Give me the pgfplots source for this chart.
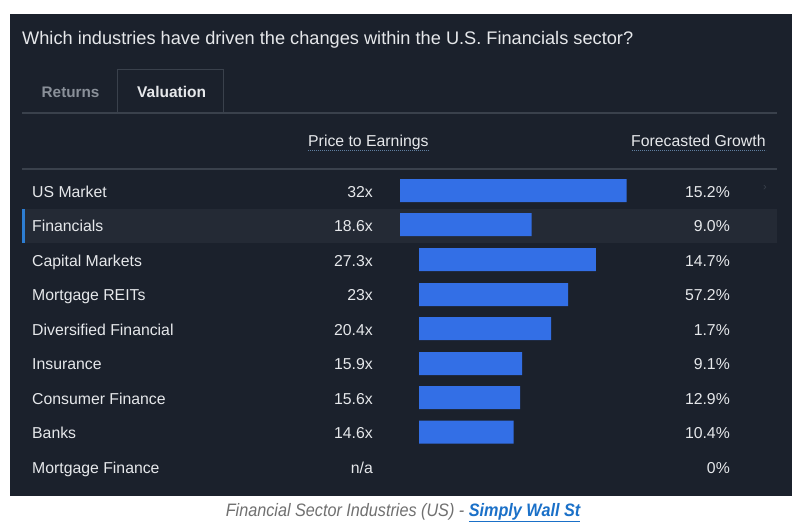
\documentclass[border=0pt]{standalone}
\usepackage{fontspec}
\setmainfont{Liberation Sans}
\usepackage{graphicx}
\usepackage{pgfplots}
\pgfplotsset{compat=1.18}
\usepackage{pgfplotstable}
\definecolor{panelbg}{HTML}{1B212C}
\definecolor{hirow}{HTML}{242A35}
\definecolor{rulec}{HTML}{3A414C}
\definecolor{txt}{HTML}{E6E8EB}
\definecolor{dimc}{HTML}{8A9099}
\definecolor{barblue}{HTML}{336FE6}
\definecolor{accent}{HTML}{2D7DD2}
\definecolor{capgray}{HTML}{707070}
\definecolor{linkc}{HTML}{1A70C8}
\definecolor{dotc}{HTML}{5F7FA0}

% y = bar centre (px from top), pe = price to earnings, x0 = bar start, k = px per unit
\pgfplotstableread{
y pe x0 k
190.5 32 400 7.08
224.5 18.6 400 7.08
259.5 27.3 419 6.48
294.5 23 419 6.48
328.5 20.4 419 6.48
363.5 15.9 419 6.48
397.5 15.6 419 6.48
432 14.6 419 6.48
}\bars

\newcommand{\fs}[1]{\fontsize{#1bp}{#1bp}\selectfont}
\newcommand{\row}[4]{%
  \node[t, anchor=base west] at (32,#1) {\fs{15.8}#2};
  \node[t, anchor=base east] at (373,#1) {\fs{15.8}#3};
  \node[t, anchor=base east] at (730,#1) {\fs{15.8}#4};
}

\begin{document}
\begin{tikzpicture}[t/.style={inner sep=0pt, text=txt}]
\begin{scope}[x=1bp, y=-1bp, shift={(0bp,519bp)}]
\fill[white] (0,0) rectangle (800,519);
\fill[panelbg] (10,14) rectangle (792,496);
\fill[hirow] (22,209) rectangle (777,243);
\fill[accent] (22,209) rectangle (24.5,243);
\draw[rulec, line width=1bp] (117,113) -- (117,70) -- (223,70) -- (223,113);
\draw[rulec, line width=1.2bp] (22,113) -- (777,113);
\draw[rulec, line width=1.2bp] (22,169) -- (777,169);
\draw[dotc, line width=1bp, dash pattern=on 1bp off 1bp] (308,151) -- (429,151);
\draw[dotc, line width=1bp, dash pattern=on 1bp off 1bp] (632,151) -- (766,151);
\end{scope}

\begin{axis}[width=800bp, height=519bp, scale only axis,
  xmin=0, xmax=800, ymin=0, ymax=519, y dir=reverse,
  hide axis, clip=false,
  xbar stacked, bar width=23bp]
\addplot[draw=none, fill=none] table[x=x0, y=y] {\bars};
\addplot[draw=none, fill=barblue] table[x expr=\thisrow{pe}*\thisrow{k}, y=y] {\bars};
\end{axis}

\begin{scope}[x=1bp, y=-1bp, shift={(0bp,519bp)}]
% title and tabs
\node[t, anchor=base west] at (22,44.5) {\fs{18.2}Which industries have driven the changes within the U.S. Financials sector?};
\node[t, anchor=base west, text=dimc] at (41.5,97.5) {\fs{15.3}\bfseries Returns};
\node[t, anchor=base west] at (137,97.5) {\fs{15.5}\bfseries Valuation};
\node[t, anchor=base west] at (308,146.5) {\fs{15.8}Price to Earnings};
\node[t, anchor=base west] at (631,146.5) {\fs{15.8}Forecasted Growth};

% rows
\row{197.3}{US Market}{32x}{15.2\%}
\row{231.8}{Financials}{18.6x}{9.0\%}
\row{266.3}{Capital Markets}{27.3x}{14.7\%}
\row{300.8}{Mortgage REITs}{23x}{57.2\%}
\row{335.3}{Diversified Financial}{20.4x}{1.7\%}
\row{369.8}{Insurance}{15.9x}{9.1\%}
\row{404.3}{Consumer Finance}{15.6x}{12.9\%}
\row{438.8}{Banks}{14.6x}{10.4\%}
\row{473.3}{Mortgage Finance}{n/a}{0\%}
\node[inner sep=0pt, text=rulec, anchor=base] at (765,191) {\fs{11}›};

% caption
\node[inner sep=0pt, anchor=base] at (403,516.5) {\scalebox{0.9}[1]{\fs{18}\itshape\color{capgray}Financial Sector Industries (US) - \color{linkc}\bfseries\underline{Simply Wall St}}};
\end{scope}
\end{tikzpicture}
\end{document}
